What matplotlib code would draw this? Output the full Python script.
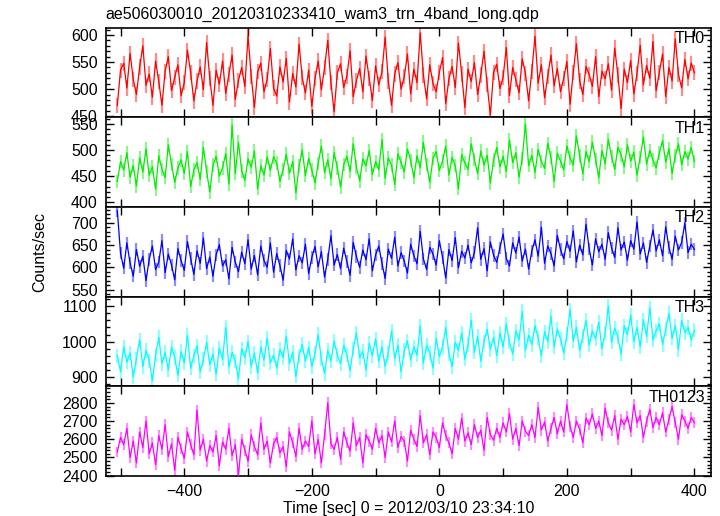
import numpy as np
import matplotlib
matplotlib.use("Agg")
import matplotlib.pyplot as plt
from matplotlib.ticker import MultipleLocator, FuncFormatter

plt.rcParams['font.family'] = ['Liberation Sans', 'DejaVu Sans']

# time bins [sec], 0 = 2012/03/10 23:34:10
t = np.arange(-505, 405, 5)

th0 = [470, 535, 548, 502, 566, 518, 490, 541, 580, 507,
       528, 485, 552, 514, 470, 533, 560, 497, 522, 545,
       488, 512, 572, 530, 478, 515, 541, 499, 586, 520,
       470, 535, 509, 552, 492, 527, 563, 481, 516, 540,
       505, 598, 524, 466, 532, 548, 495, 518, 575, 502,
       487, 541, 513, 557, 476, 529, 504, 583, 521, 493,
       535, 468, 519, 552, 499, 540, 590, 512, 458, 530,
       547, 503, 524, 571, 486, 516, 538, 495, 561, 520,
       479, 543, 508, 532, 596, 515, 470, 528, 549, 500,
       523, 565, 491, 537, 512, 604, 526, 482, 545, 510,
       495, 531, 558, 473, 519, 542, 503, 585, 528, 466,
       537, 514, 549, 490, 526, 570, 508, 452, 531, 546,
       501, 522, 577, 488, 540, 517, 493, 556, 529, 478,
       533, 598, 511, 545, 484, 524, 563, 506, 538, 495,
       520, 551, 472, 530, 584, 515, 490, 542, 527, 505,
       560, 486, 533, 519, 547, 498, 576, 526, 464, 537,
       512, 553, 491, 529, 581, 508, 544, 520, 588, 497,
       531, 565, 486, 540, 515, 593, 527, 502, 555, 519,
       548, 530]

th1 = [440, 478, 462, 495, 448, 470, 431, 485, 458, 502,
       452, 468, 425, 489, 463, 447, 510, 472, 438, 466,
       481, 455, 497, 430, 462, 476, 444, 505, 459, 420,
       471, 488, 450, 466, 493, 435, 548, 455, 515, 460,
       442, 483, 467, 498, 426, 470, 452, 487, 461, 487,
       475, 440, 463, 492, 455, 478, 418, 469, 500, 451,
       484, 462, 437, 474, 508, 457, 481, 445, 495, 466,
       429, 472, 488, 459, 512, 467, 441, 483, 470, 499,
       453, 478, 462, 520, 446, 485, 471, 434, 493, 476,
       458, 502, 480, 447, 489, 466, 515, 472, 438, 484,
       497, 461, 479, 508, 452, 486, 470, 426, 491, 475,
       463, 512, 482, 455, 498, 471, 490, 437, 481, 505,
       468, 488, 459, 519, 476, 495, 448, 484, 550, 470,
       490, 457, 501, 478, 465, 513, 486, 440, 494, 479,
       462, 508, 485, 471, 527, 489, 454, 497, 478, 515,
       482, 447, 499, 474, 520, 488, 463, 505, 491, 468,
       510, 479, 496, 452, 486, 525, 473, 499, 481, 466,
       494, 518, 477, 503, 455, 489, 512, 472, 497, 483,
       505, 478]

th2 = [728, 632, 598, 655, 610, 580, 640, 602, 625, 570,
       618, 648, 595, 612, 660, 588, 630, 605, 572, 642,
       615, 593, 658, 620, 584, 637, 609, 666, 597, 623,
       580, 628, 651, 603, 617, 574, 645, 612, 590, 634,
       608, 662, 596, 627, 583, 648, 615, 600, 655, 589,
       631, 604, 571, 638, 619, 664, 594, 626, 610, 652,
       586, 622, 647, 601, 635, 578, 618, 671, 605, 629,
       597, 643, 613, 582, 656, 624, 600, 639, 617, 664,
       592, 628, 648, 609, 575, 641, 620, 668, 603, 633,
       614, 587, 652, 626, 608, 681, 619, 595, 645, 630,
       605, 660, 622, 576, 640, 615, 667, 599, 636, 621,
       650, 610, 633, 689, 618, 642, 592, 657, 627, 611,
       644, 675, 620, 603, 655, 632, 668, 614, 641, 596,
       637, 662, 625, 690, 609, 648, 631, 603, 672, 640,
       619, 658, 636, 682, 612, 650, 628, 697, 641, 605,
       664, 635, 652, 618, 678, 644, 622, 689, 639, 657,
       616, 660, 641, 702, 630, 655, 611, 648, 684, 637,
       662, 626, 691, 645, 618, 670, 639, 656, 700, 633,
       652, 640]

th3 = [960, 915, 985, 942, 968, 900, 952, 1005, 930, 975,
       946, 890, 962, 1012, 938, 970, 920, 985, 955, 905,
       972, 940, 1018, 925, 960, 988, 915, 950, 998, 935,
       965, 908, 982, 950, 1040, 928, 970, 945, 895, 980,
       955, 1000, 930, 968, 912, 985, 948, 1010, 940, 962,
       925, 978, 955, 1015, 938, 970, 902, 960, 992, 945,
       983, 930, 968, 1020, 950, 910, 975, 945, 1002, 962,
       938, 990, 962, 918, 980, 1025, 955, 972, 920, 995,
       960, 1008, 945, 985, 930, 968, 1030, 952, 990, 915,
       975, 1002, 948, 985, 962, 1045, 940, 990, 968, 925,
       1010, 958, 985, 1040, 965, 930, 998, 975, 1025, 950,
       992, 1060, 970, 1015, 945, 1000, 1035, 978, 1012, 960,
       1025, 985, 1050, 998, 965, 1030, 1005, 1085, 975, 1018,
       992, 1045, 1010, 960, 1028, 1000, 1072, 985, 1035, 1008,
       968, 1020, 1090, 1002, 1040, 975, 1015, 1060, 990, 1030,
       1008, 1055, 980, 1025, 1100, 998, 1038, 1012, 965, 1045,
       1020, 1075, 1000, 1040, 985, 1062, 1015, 1095, 1005, 1030,
       1050, 992, 1035, 1080, 1010, 1045, 978, 1060, 1025, 1040,
       1005, 1032]

th0123 = [2530, 2610, 2570, 2660, 2500, 2590, 2470, 2640, 2555, 2700,
          2520, 2580, 2460, 2620, 2545, 2680, 2505, 2575, 2430, 2610,
          2550, 2495, 2640, 2570, 2515, 2760, 2540, 2600, 2480, 2565,
          2530, 2620, 2455, 2585, 2545, 2660, 2510, 2570, 2400, 2600,
          2540, 2480, 2625, 2560, 2515, 2690, 2545, 2590, 2470, 2575,
          2610, 2525, 2560, 2450, 2640, 2580, 2505, 2660, 2545, 2590,
          2560, 2700, 2520, 2600, 2470, 2625, 2800, 2575, 2545, 2610,
          2490, 2640, 2580, 2535, 2690, 2565, 2610, 2470, 2625, 2590,
          2545, 2660, 2580, 2620, 2500, 2640, 2585, 2700, 2555, 2615,
          2590, 2480, 2650, 2600, 2560, 2730, 2580, 2625, 2515, 2640,
          2610, 2555, 2690, 2620, 2580, 2520, 2660, 2600, 2715, 2590,
          2635, 2570, 2680, 2610, 2650, 2540, 2720, 2625, 2595, 2660,
          2610, 2690, 2640, 2740, 2600, 2660, 2565, 2700, 2645, 2620,
          2680, 2610, 2775, 2650, 2695, 2590, 2660, 2720, 2630, 2700,
          2640, 2790, 2670, 2610, 2700, 2655, 2580, 2715, 2680, 2740,
          2660, 2700, 2620, 2770, 2690, 2650, 2730, 2600, 2710, 2680,
          2725, 2640, 2790, 2690, 2730, 2610, 2700, 2765, 2665, 2720,
          2680, 2745, 2640, 2710, 2780, 2690, 2600, 2735, 2700, 2660,
          2720, 2690]

series = [th0, th1, th2, th3, th0123]
names = ['TH0', 'TH1', 'TH2', 'TH3', 'TH0123']
errs = [14, 13, 14, 20, 30]  # typical 1-sigma bar per bin

colors = ['#ff0000', '#00ee00', '#0000ff', '#00ffff', '#ff00ff']
ylims = [(448, 614), (391, 563), (534, 736), (874, 1127), (2398, 2891)]
majors = [50, 50, 50, 100, 100]
minors = [10, 10, 10, 20, 20]


def xfmt(v, pos):
    # labels only every 200 s, ticks every 100 s
    if int(round(v)) % 200:
        return ''
    return ('%d' % v).replace('-', '\u2212')


fig = plt.figure(figsize=(7.2, 5.16), dpi=100)
left, right = 0.147, 0.9875
top, bottom = 0.9467, 0.0775
h = (top - bottom) / 5

axes = []
for i in range(5):
    ax = fig.add_axes([left, top - (i + 1) * h, right - left, h])
    axes.append(ax)
    y = np.array(series[i])
    # error bars (lighter) under the light curve
    ax.vlines(t, y - errs[i], y + errs[i], color=colors[i], lw=1.6,
              alpha=0.45, zorder=2)
    ax.plot(t, y, '-', color=colors[i], lw=0.9, zorder=3)
    ax.set_xlim(-523, 426)
    ax.set_ylim(*ylims[i])
    ax.xaxis.set_major_locator(MultipleLocator(100))
    ax.yaxis.set_major_locator(MultipleLocator(majors[i]))
    ax.yaxis.set_minor_locator(MultipleLocator(minors[i]))
    ax.tick_params(which='both', direction='in', top=True, right=True,
                   labelsize=11.5, width=1.0)
    ax.tick_params(which='major', length=6, pad=6)
    ax.tick_params(which='minor', length=3)
    ax.text(0.99, 0.96, names[i], transform=ax.transAxes, ha='right', va='top',
            fontsize=11.5)
    for sp in ax.spines.values():
        sp.set_linewidth(1.2)
    if i < 4:
        ax.tick_params(labelbottom=False)
    else:
        ax.xaxis.set_major_formatter(FuncFormatter(xfmt))

axes[-1].set_xlabel('Time [sec] 0 = 2012/03/10 23:34:10', fontsize=11.5, labelpad=1)
fig.text(0.055, (top + bottom) / 2, 'Counts/sec', rotation=90, ha='center',
         va='center', fontsize=11.5)
fig.text(left, 0.972, 'ae506030010_20120310233410_wam3_trn_4band_long.qdp',
         ha='left', va='center', fontsize=11.5)

fig.savefig('out.png', dpi=100)
